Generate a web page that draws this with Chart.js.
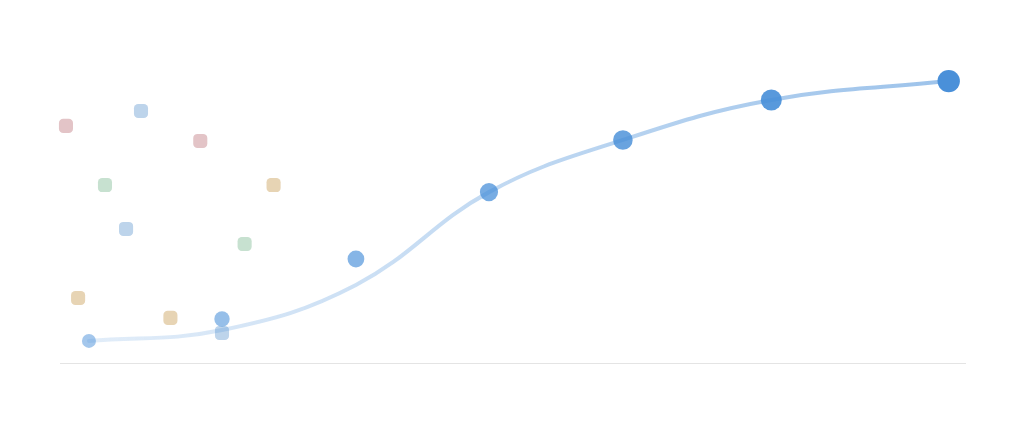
<!DOCTYPE html>
<html>
<head>
<meta charset="utf-8">
<script src="https://cdn.jsdelivr.net/npm/chart.js@4/dist/chart.umd.min.js"></script>
<style>
  html, body { margin: 0; padding: 0; background: #fff; }
  #wrap { width: 1024px; height: 430px; }
</style>
</head>
<body>
<div id="wrap"><canvas id="chart"></canvas></div>
<script>
// growth curve (smooth line)
const curveX = [3.2, 17.9, 32.7, 47.4, 62.2, 78.6, 98.2];
const curveY = [6.9, 10.3, 24.4, 53.4, 69.7, 82.2, 88.1];

// highlighted measurements (circles)
const pointX = [3.2, 17.9, 32.7, 47.4, 62.2, 78.6, 98.2];
const pointY = [6.9, 13.75, 32.5, 53.4, 69.7, 82.2, 88.1];

// scattered background samples (squares)
const squareX = [0.66, 8.95, 15.5, 4.97, 23.6, 7.3, 20.4, 2.0, 12.2, 17.9];
const squareY = [74.1, 78.75, 69.4, 55.6, 55.6, 41.9, 37.2, 20.3, 14.1, 9.4];
const squareGroup = ['red', 'blue', 'red', 'green', 'tan', 'blue', 'green', 'tan', 'tan', 'blue'];

const groupColors = {
    red: '#e3c4c7',
    blue: '#bdd4eb',
    green: '#c7e1d0',
    tan: '#e7d4b4'
};

document.addEventListener('DOMContentLoaded', function() {
    const ctx = document.getElementById('chart').getContext('2d');

    const toPts = (xs, ys) => xs.map((x, i) => ({ x: x, y: ys[i] }));
    const n = pointX.length;

    new Chart(ctx, {
        type: 'scatter',
        data: {
            datasets: [
                {
                    label: 'points',
                    data: toPts(pointX, pointY),
                    pointRadius: pointX.map((_, i) => 7 + i * 0.7),
                    pointHoverRadius: pointX.map((_, i) => 7 + i * 0.7),
                    backgroundColor: pointX.map((_, i) => 'rgba(74, 144, 217, ' + (0.5 + 0.5 * i / (n - 1)).toFixed(2) + ')'),
                    borderWidth: 0,
                    clip: false,
                    order: 0
                },
                {
                    label: 'curve',
                    data: toPts(curveX, curveY),
                    showLine: true,
                    tension: 0.4,
                    pointRadius: 0,
                    borderWidth: 4,
                    borderCapStyle: 'round',
                    borderColor: function(context) {
                        const area = context.chart.chartArea;
                        if (!area) return 'rgba(74, 144, 217, 0.4)';
                        const g = context.chart.ctx.createLinearGradient(area.left, 0, area.right, 0);
                        g.addColorStop(0, 'rgba(74, 144, 217, 0.15)');
                        g.addColorStop(1, 'rgba(74, 144, 217, 0.55)');
                        return g;
                    },
                    clip: false,
                    order: 1
                },
                {
                    label: 'samples',
                    data: toPts(squareX, squareY),
                    pointStyle: 'rectRounded',
                    pointRadius: 8.2,
                    pointHoverRadius: 8.2,
                    backgroundColor: squareGroup.map(g => groupColors[g]),
                    borderWidth: 0,
                    clip: false,
                    order: 2
                }
            ]
        },
        options: {
            responsive: true,
            maintainAspectRatio: false,
            animation: false,
            layout: {
                padding: { left: 60, right: 59, top: 43, bottom: 67 }
            },
            plugins: {
                legend: { display: false },
                tooltip: { enabled: false }
            },
            scales: {
                x: {
                    type: 'linear',
                    min: 0,
                    max: 100,
                    grid: { display: false, drawTicks: false },
                    ticks: { display: false },
                    border: { display: true, color: '#e4e4e4', width: 1 }
                },
                y: {
                    type: 'linear',
                    min: 0,
                    max: 100,
                    display: false
                }
            }
        }
    });
});
</script>
</body>
</html>
